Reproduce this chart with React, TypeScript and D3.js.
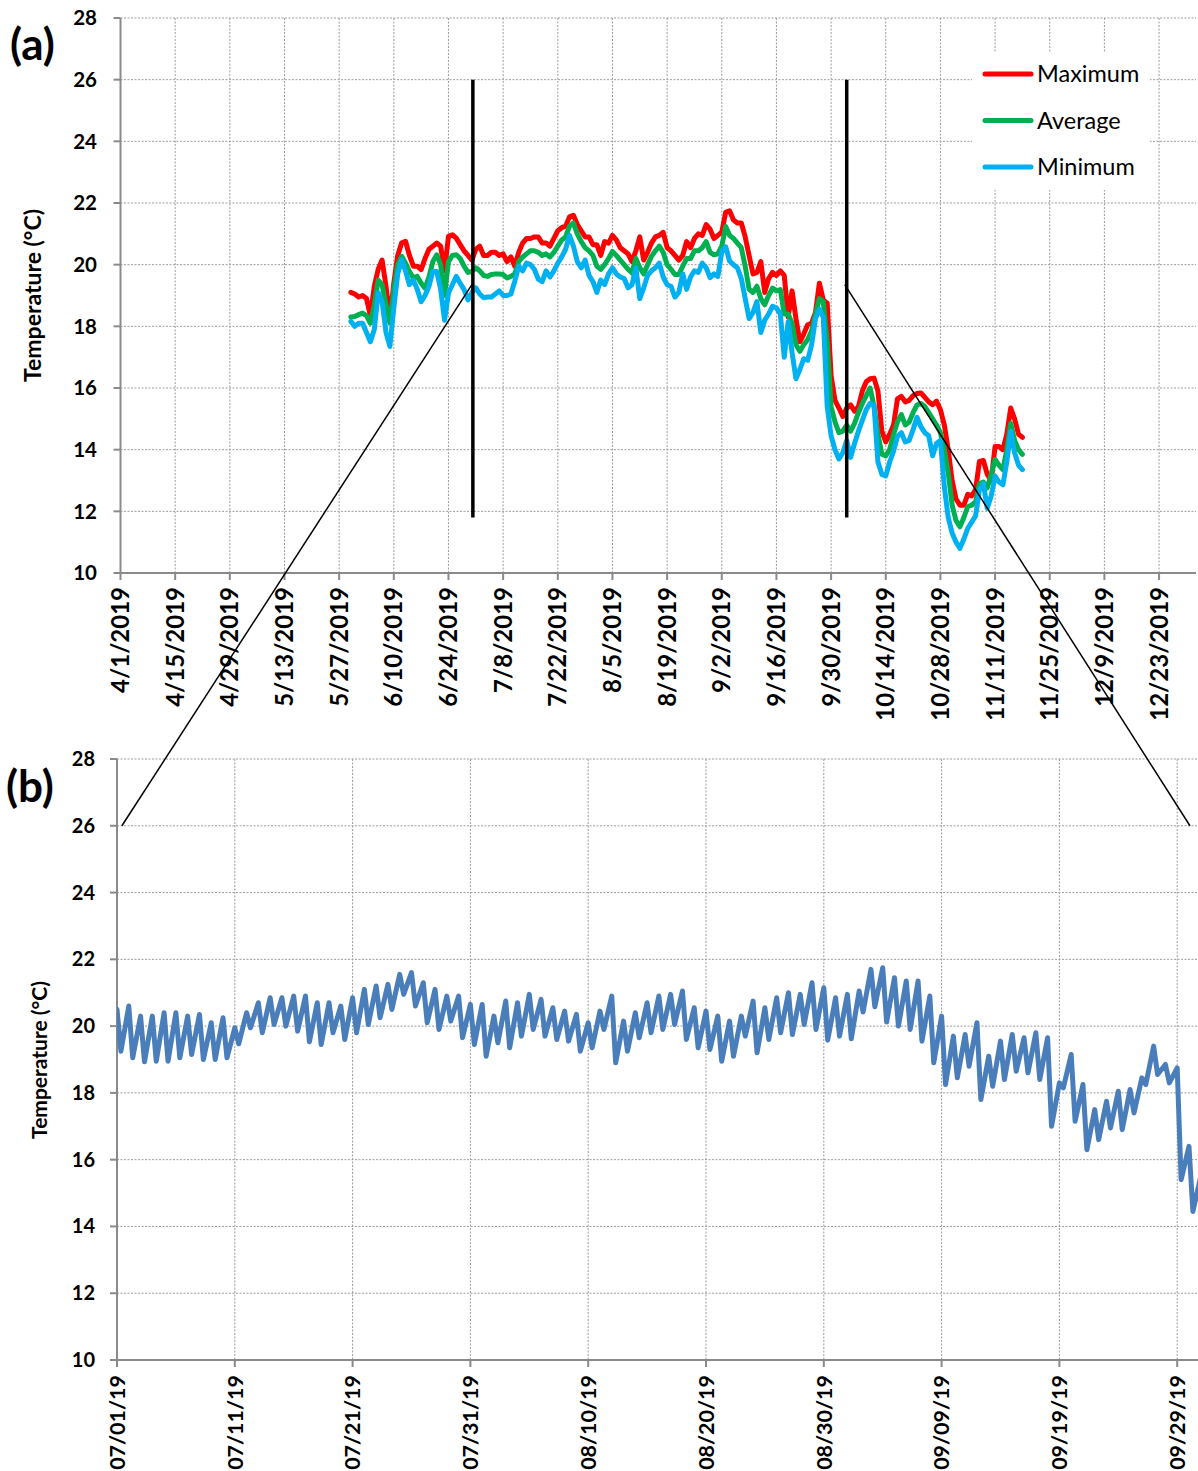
import React from "react";
import * as d3 from "d3";

// ---------------- Panel (a): daily series, first value on 2019-05-30 ----------------
const seriesStartA = "2019-05-30";
const seriesNames = ["Maximum", "Average", "Minimum"];

const maxTemp = [
  19.1, 19.05, 18.95, 19.0, 18.9, 18.35, 19.3, 19.85, 20.15, 19.3, 18.25, 19.4, 20.3, 20.7, 20.76, 20.3,
  19.95, 19.95, 19.84, 20.2, 20.5, 20.6, 20.7, 20.6, 19.8, 20.92, 20.97, 20.86, 20.65, 20.45, 20.3, 20.15,
  20.5, 20.6, 20.3, 20.3, 20.4, 20.4, 20.3, 20.35, 20.1, 20.25, 19.95, 20.4, 20.7, 20.85, 20.85, 20.9,
  20.9, 20.7, 20.7, 20.6, 20.85, 21.1, 21.2, 21.25, 21.55, 21.6, 21.3, 21.1, 20.9, 20.9, 20.65,
  20.65, 20.3, 20.75, 20.7, 20.95, 20.8, 20.55, 20.45, 20.35, 20.1, 20.45, 20.9, 20.15, 20.4, 20.7, 20.9,
  20.95, 21.05, 20.55, 20.45, 20.3, 20.15, 20.3, 20.75, 20.55, 20.85, 21.0, 20.95, 21.3, 21.15, 20.85,
  20.95, 21.05, 21.7, 21.75, 21.45, 21.35, 21.35, 20.9, 20.3, 19.7, 19.75, 20.1, 19.1, 19.55, 19.75,
  19.65, 19.8, 19.65, 18.3, 19.15, 18.25, 17.5, 17.75, 18.05, 18.1, 18.45, 19.4, 18.85, 18.75, 16.4,
  15.6, 15.35, 15.08, 15.35, 15.45, 15.25, 15.4, 15.9, 16.2, 16.3, 16.32, 15.9, 14.6, 14.25, 14.5, 14.8,
  15.65, 15.73, 15.55, 15.6, 15.75, 15.82, 15.84, 15.7, 15.55, 15.46, 15.57, 15.3, 14.8, 14.0, 13.0, 12.4,
  12.2, 12.2, 12.55, 12.5, 12.7, 13.62, 13.65, 13.2, 13.0, 14.1, 14.1, 14.0, 14.5, 15.35, 15.0, 14.5, 14.4,
];

const avgTemp = [
  18.3, 18.32, 18.38, 18.43, 18.35, 18.1, 18.7, 19.5, 19.35, 18.7, 18.1, 19.2, 20.0, 20.27, 20.05, 19.78,
  19.57, 19.62, 19.4, 19.24, 19.6, 20.1, 20.32, 20.0, 19.0, 20.1, 20.3, 20.32, 20.2, 19.95, 19.75, 19.78,
  19.9, 19.8, 19.65, 19.62, 19.68, 19.7, 19.7, 19.68, 19.57, 19.62, 19.7, 20.1, 20.25, 20.35, 20.45, 20.45,
  20.4, 20.3, 20.35, 20.25, 20.4, 20.6, 20.8, 20.9, 21.25, 21.35, 21.0, 20.75, 20.55, 20.45, 20.3,
  19.95, 19.85, 20.0, 20.2, 20.43, 20.3, 20.15, 20.0, 19.85, 19.73, 20.2, 19.9, 19.7, 20.0, 20.27, 20.45,
  20.6, 20.4, 20.0, 19.85, 19.68, 19.68, 19.95, 20.2, 20.2, 20.45, 20.45, 20.55, 20.75, 20.4, 20.32,
  20.35, 20.6, 21.24, 20.95, 20.85, 20.7, 20.55, 19.95, 19.2, 19.1, 19.3, 18.9, 18.7, 19.0, 19.24,
  19.15, 19.19, 18.4, 18.4, 18.1, 17.4, 17.19, 17.4, 17.57, 17.85, 18.4, 18.9, 18.8, 17.5, 15.4,
  14.9, 14.55, 14.6, 14.8, 14.6, 14.85, 15.2, 15.5, 15.75, 16.0, 15.4, 14.5, 13.85, 13.8, 14.0, 14.5,
  14.9, 15.14, 14.8, 14.9, 15.2, 15.45, 15.5, 15.4, 15.2, 15.0, 14.8, 14.55, 14.0, 13.25, 12.2, 11.7,
  11.5, 11.8, 12.15, 12.2, 12.3, 12.9, 12.95, 12.76, 13.2, 13.68, 13.5, 13.35, 14.0, 14.85, 14.3, 14.0, 13.85,
];

const minTemp = [
  18.16, 18.0, 18.1, 18.1, 17.8, 17.5, 17.9, 19.1, 18.8, 17.8, 17.35, 18.6, 19.7, 20.16, 19.8, 19.35,
  19.5, 19.2, 18.8, 19.0, 19.3, 19.78, 19.78, 19.2, 18.2, 19.08, 19.35, 19.62, 19.4, 19.19, 18.86, 19.1,
  19.25, 19.05, 18.93, 18.95, 18.95, 19.05, 19.15, 19.0, 19.0, 19.05, 19.47, 19.95, 19.8, 20.05, 20.0, 19.85,
  19.53, 19.45, 19.8, 19.6, 19.8, 20.05, 20.25, 20.5, 20.95, 20.6, 20.1, 19.9, 20.15, 19.65, 19.45,
  19.1, 19.5, 19.35, 19.7, 19.9, 19.7, 19.6, 19.55, 19.25, 19.35, 19.9, 18.9, 19.25, 19.65, 19.8, 19.9,
  20.05, 19.6, 19.35, 19.3, 18.95, 19.1, 19.7, 19.2, 19.6, 19.8, 19.75, 20.05, 19.9, 19.58, 19.7,
  19.62, 20.42, 20.58, 20.12, 20.0, 19.9, 19.55, 18.9, 18.25, 18.45, 18.8, 17.8, 18.2, 18.4, 18.65,
  18.6, 18.4, 17.0, 18.15, 17.15, 16.3, 16.6, 16.95, 16.9, 17.4, 18.25, 18.55, 18.3, 15.4, 14.45,
  14.0, 13.7, 13.9, 14.3, 13.75, 14.2, 14.6, 14.95, 15.3, 15.5, 15.45, 13.6, 13.2, 13.15, 13.6, 13.95,
  14.43, 14.55, 14.25, 14.3, 14.65, 15.05, 14.75, 14.55, 14.45, 13.8, 14.2, 14.3, 12.8, 11.8, 11.3, 11.0,
  10.8, 11.1, 11.45, 11.65, 11.85, 12.7, 12.9, 12.1, 12.5, 13.14, 12.95, 12.86, 13.6, 14.6, 13.9, 13.5, 13.35,
];

const xTicksA = [
  "2019-04-01", "2019-04-15", "2019-04-29", "2019-05-13", "2019-05-27", "2019-06-10", "2019-06-24",
  "2019-07-08", "2019-07-22", "2019-08-05", "2019-08-19", "2019-09-02", "2019-09-16", "2019-09-30",
  "2019-10-14", "2019-10-28", "2019-11-11", "2019-11-25", "2019-12-09", "2019-12-23",
];
const xDomainA = ["2019-04-01", "2020-01-01"];
const yTicks = [10, 12, 14, 16, 18, 20, 22, 24, 26, 28];

// zoom-window annotation (dates on panel a, temperatures)
const zoomBarDates = ["2019-06-30T06:00", "2019-10-04T00:00"];
const zoomBarRange = [26, 11.8];
const connectorTopDates = ["2019-06-30T06:00", "2019-10-03T12:00"];
const connectorTopTemps = [19.4, 19.35];
const connectorBottomDates = ["2019-07-01T10:00", "2019-09-30T02:00"];
const connectorBottomTemp = 26;

// ---------------- Panel (b): daily high / low, first day 2019-07-01 ----------------
const seriesStartB = "2019-07-01";
const dailyHighB = [
  20.5, 20.6, 20.3, 20.3, 20.4, 20.4, 20.3, 20.35, 20.1, 20.25, 19.95, 20.4, 20.7, 20.85, 20.85, 20.9,
  20.9, 20.7, 20.7, 20.6, 20.85, 21.1, 21.2, 21.25, 21.55, 21.6, 21.3, 21.1, 20.9, 20.9, 20.65,
  20.65, 20.3, 20.75, 20.7, 20.95, 20.8, 20.55, 20.45, 20.35, 20.1, 20.45, 20.9, 20.15, 20.4, 20.7, 20.9,
  20.95, 21.05, 20.55, 20.45, 20.3, 20.15, 20.3, 20.75, 20.55, 20.85, 21.0, 20.95, 21.3, 21.15, 20.85,
  20.95, 21.05, 21.7, 21.75, 21.45, 21.35, 21.35, 20.9, 20.3, 19.7, 19.75, 20.1, 19.1, 19.55, 19.75,
  19.65, 19.8, 19.65, 18.3, 19.15, 18.25, 17.5, 17.75, 18.05, 18.1, 18.45, 19.4, 18.85, 18.75, 16.4, 15.5,
];
const dailyLowB = [
  19.25, 19.05, 18.93, 18.95, 18.95, 19.05, 19.15, 19.0, 19.0, 19.05, 19.47, 19.95, 19.8, 20.05, 20.0, 19.85,
  19.53, 19.45, 19.8, 19.6, 19.8, 20.05, 20.25, 20.5, 20.95, 20.6, 20.1, 19.9, 20.15, 19.65, 19.45,
  19.1, 19.5, 19.35, 19.7, 19.9, 19.7, 19.6, 19.55, 19.25, 19.35, 19.9, 18.9, 19.25, 19.65, 19.8, 19.9,
  20.05, 19.6, 19.35, 19.3, 18.95, 19.1, 19.7, 19.2, 19.6, 19.8, 19.75, 20.05, 19.9, 19.58, 19.7,
  19.62, 20.42, 20.58, 20.12, 20.0, 19.9, 19.55, 18.9, 18.25, 18.45, 18.8, 17.8, 18.2, 18.4, 18.65,
  18.6, 18.4, 17.0, 18.15, 17.15, 16.3, 16.6, 16.95, 16.9, 17.4, 18.25, 18.55, 18.3, 15.4, 14.45,
];
const lowHourB = 8; // hour of day at which the daily low is plotted
const xTicksB = [
  "2019-07-01", "2019-07-11", "2019-07-21", "2019-07-31", "2019-08-10",
  "2019-08-20", "2019-08-30", "2019-09-09", "2019-09-19", "2019-09-29",
];
const xDomainB = ["2019-07-01", "2019-10-03"];

// ---------------- helpers ----------------
const parse = (s: string) => new Date(s.length > 10 ? s + ":00Z" : s + "T00:00:00Z");
const addDays = (s: string, n: number) => d3.utcDay.offset(parse(s), n);

const FONT = "Lato, 'Open Sans', sans-serif";
const GRID = "#9c9c9c";
const AXIS = "#8a8a8a";
const COLORS = ["#FF0000", "#00B050", "#00B0F0"];

export default function App() {
  const W = 1198;
  const H = 1471;

  // panel a geometry
  const A = { left: 120.5, right: 1194.2, top: 18, bottom: 573 };
  const xA = d3.scaleUtc().domain(xDomainA.map(parse)).range([A.left, A.right]);
  const yA = d3.scaleLinear().domain([10, 28]).range([A.bottom, A.top]);

  // panel b geometry (11.78 px per day)
  const B = { left: 117, right: 117 + 94 * 11.78, top: 759, bottom: 1360 };
  const xB = d3.scaleUtc().domain(xDomainB.map(parse)).range([B.left, B.right]);
  const yB = d3.scaleLinear().domain([10, 28]).range([B.bottom, B.top]);

  const seriesA = [maxTemp, avgTemp, minTemp].map((arr) =>
    arr.map((v, i) => ({ t: addDays(seriesStartA, i), v }))
  );
  const lineA = d3
    .line<{ t: Date; v: number }>()
    .x((d) => xA(d.t))
    .y((d) => yA(d.v));

  const ptsB: { t: Date; v: number }[] = [];
  dailyHighB.forEach((hv, i) => {
    ptsB.push({ t: addDays(seriesStartB, i), v: hv });
    if (i < dailyLowB.length)
      ptsB.push({ t: d3.utcHour.offset(addDays(seriesStartB, i), lowHourB), v: dailyLowB[i] });
  });
  const lineB = d3
    .line<{ t: Date; v: number }>()
    .x((d) => xB(d.t))
    .y((d) => yB(d.v));

  const fmtA = d3.utcFormat("%-m/%-d/%Y");
  const fmtB = d3.utcFormat("%m/%d/%y");

  const plotRightA = 1196;
  const plotRightB = 1198;

  return (
    <svg
      width={W}
      height={H}
      viewBox={`0 0 ${W} ${H}`}
      style={{ position: "absolute", left: 0, top: 0, background: "#fff" }}
      fontFamily={FONT}
    >
      <defs>
        <clipPath id="clipB">
          <rect x={B.left} y={B.top - 5} width={plotRightB - B.left} height={B.bottom - B.top + 10} />
        </clipPath>
      </defs>
      <rect x={0} y={0} width={W} height={H} fill="#fff" />

      {/* ================= PANEL A ================= */}
      {yTicks.map((t) => (
        <line key={"ga" + t} x1={A.left} x2={plotRightA} y1={yA(t)} y2={yA(t)} stroke={GRID} strokeWidth={1} strokeDasharray="2,1.5" />
      ))}
      {xTicksA.map((t) => (
        <line key={"gva" + t} x1={xA(parse(t))} x2={xA(parse(t))} y1={A.top} y2={A.bottom} stroke={GRID} strokeWidth={1} strokeDasharray="2,1.5" />
      ))}
      {/* axes */}
      <line x1={A.left} x2={A.left} y1={A.top} y2={A.bottom} stroke={AXIS} strokeWidth={2} />
      <line x1={A.left} x2={plotRightA} y1={A.bottom} y2={A.bottom} stroke={AXIS} strokeWidth={2} />
      {yTicks.map((t) => (
        <g key={"ya" + t}>
          <line x1={A.left - 7} x2={A.left} y1={yA(t)} y2={yA(t)} stroke={AXIS} strokeWidth={2} />
          <text x={97} y={yA(t)} dy="0.35em" textAnchor="end" fontSize={20.5} fontWeight={700}>
            {t}
          </text>
        </g>
      ))}
      {xTicksA.map((t) => (
        <g key={"xa" + t}>
          <line x1={xA(parse(t))} x2={xA(parse(t))} y1={A.bottom} y2={A.bottom + 7} stroke={AXIS} strokeWidth={2} />
          <text
            transform={`translate(${xA(parse(t))},${587}) rotate(-90)`}
            dy="0.36em"
            textAnchor="end"
            fontSize={24}
            fontWeight={700}
          >
            {fmtA(parse(t))}
          </text>
        </g>
      ))}
      <text transform={`translate(41,${(A.top + A.bottom) / 2}) rotate(-90)`} textAnchor="middle" fontSize={23} fontWeight={700}>
        Temperature (°C)
      </text>
      <text x={10} y={60} fontSize={44} fontWeight={700}>
        (a)
      </text>

      {/* series */}
      {seriesA.map((s, i) => (
        <path key={"sa" + i} d={lineA(s) || ""} fill="none" stroke={COLORS[i]} strokeWidth={5} strokeLinejoin="round" strokeLinecap="round" />
      ))}

      {/* legend */}
      <rect x={972} y={52} width={178} height={138} fill="#fff" />
      {seriesNames.map((n, i) => (
        <g key={"lg" + n} transform={`translate(0,${74 + i * 46.5})`}>
          <line x1={985} x2={1031} y1={0} y2={0} stroke={COLORS[i]} strokeWidth={5} strokeLinecap="round" />
          <text x={1037} y={0} dy="0.35em" fontSize={23.5}>
            {n}
          </text>
        </g>
      ))}

      {/* ================= PANEL B ================= */}
      {yTicks.map((t) => (
        <line key={"gb" + t} x1={B.left} x2={plotRightB} y1={yB(t)} y2={yB(t)} stroke={GRID} strokeWidth={1} strokeDasharray="2,1.5" />
      ))}
      {xTicksB.map((t) => (
        <line key={"gvb" + t} x1={xB(parse(t))} x2={xB(parse(t))} y1={B.top} y2={B.bottom} stroke={GRID} strokeWidth={1} strokeDasharray="2,1.5" />
      ))}
      <line x1={B.left} x2={B.left} y1={B.top} y2={B.bottom} stroke={AXIS} strokeWidth={2} />
      <line x1={B.left} x2={plotRightB} y1={B.bottom} y2={B.bottom} stroke={AXIS} strokeWidth={2} />
      {yTicks.map((t) => (
        <g key={"yb" + t}>
          <line x1={B.left - 7} x2={B.left} y1={yB(t)} y2={yB(t)} stroke={AXIS} strokeWidth={2} />
          <text x={95} y={yB(t)} dy="0.35em" textAnchor="end" fontSize={20} fontWeight={700}>
            {t}
          </text>
        </g>
      ))}
      {xTicksB.map((t) => (
        <g key={"xb" + t}>
          <line x1={xB(parse(t))} x2={xB(parse(t))} y1={B.bottom} y2={B.bottom + 7} stroke={AXIS} strokeWidth={2} />
          <text
            transform={`translate(${xB(parse(t))},${1375}) rotate(-90)`}
            dy="0.36em"
            textAnchor="end"
            fontSize={21.5}
            fontWeight={700}
          >
            {fmtB(parse(t))}
          </text>
        </g>
      ))}
      <text transform={`translate(47,${1060}) rotate(-90)`} textAnchor="middle" fontSize={21} fontWeight={700}>
        Temperature (°C)
      </text>
      <text x={6} y={802} fontSize={44} fontWeight={700}>
        (b)
      </text>
      <path d={lineB(ptsB) || ""} fill="none" stroke="#4A7EBB" strokeWidth={5} strokeLinejoin="round" strokeLinecap="round" clipPath="url(#clipB)" />

      {/* ================= ANNOTATIONS ================= */}
      {zoomBarDates.map((d) => (
        <line key={"zb" + d} x1={xA(parse(d))} x2={xA(parse(d))} y1={yA(zoomBarRange[0])} y2={yA(zoomBarRange[1])} stroke="#000" strokeWidth={3.5} />
      ))}
      {connectorTopDates.map((d, i) => (
        <line
          key={"cn" + d}
          x1={xA(parse(d))}
          y1={yA(connectorTopTemps[i])}
          x2={xB(parse(connectorBottomDates[i]))}
          y2={yB(connectorBottomTemp)}
          stroke="#000"
          strokeWidth={1.5}
        />
      ))}
    </svg>
  );
}
